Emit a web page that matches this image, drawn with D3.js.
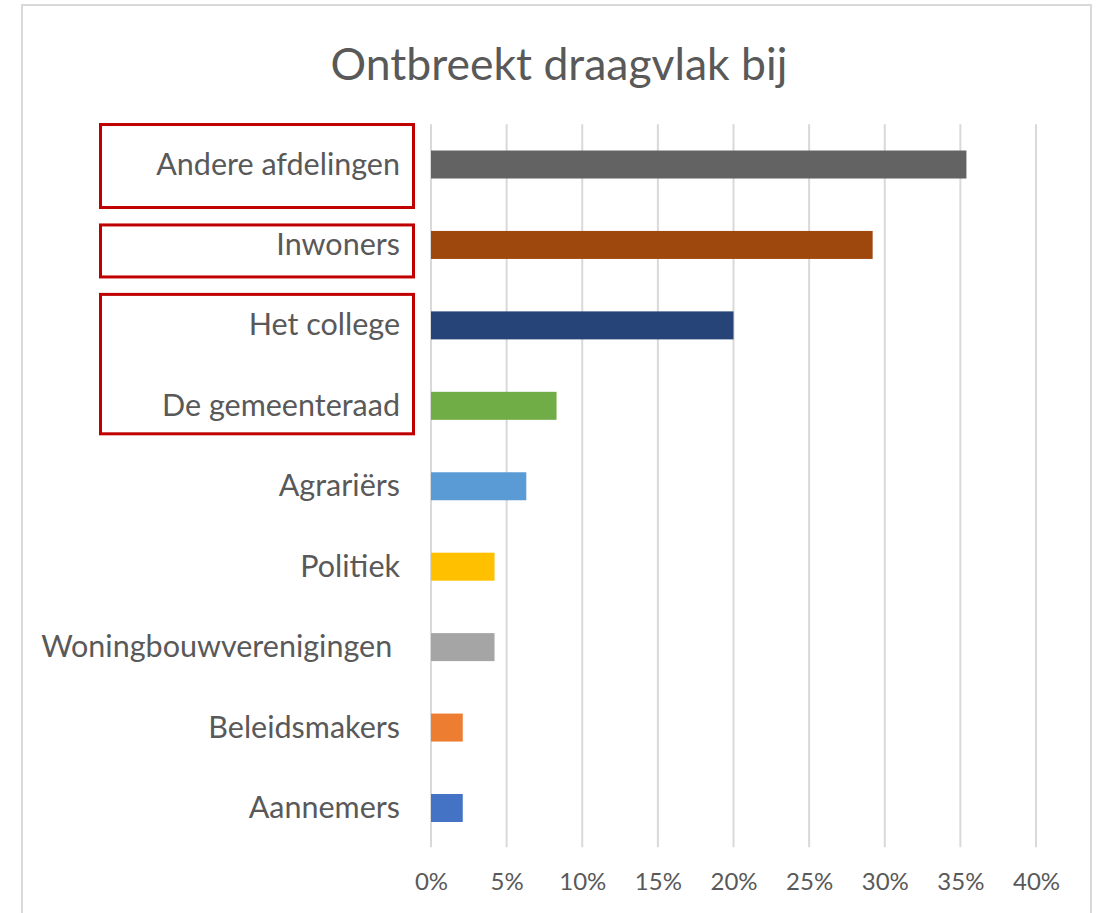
<!DOCTYPE html>
<html lang="nl">
<head>
<meta charset="UTF-8">
<title>Ontbreekt draagvlak bij</title>
<script src="https://cdn.jsdelivr.net/npm/d3@7"></script>
<style>
    body { margin: 0; background: #fff; }
    text { font-family: Lato, "Noto Sans", sans-serif; fill: #595959; }
</style>
</head>
<body>
<script>
    // Categorieen (van boven naar beneden) en waarden in procenten
    let categories = ["Andere afdelingen", "Inwoners", "Het college", "De gemeenteraad", "Agrariërs",
        "Politiek", "Woningbouwverenigingen ", "Beleidsmakers", "Aannemers"];
    let values = [35.4, 29.2, 20.0, 8.3, 6.3, 4.2, 4.2, 2.1, 2.1];
    let colors = ["#636363", "#9E480E", "#264478", "#70AD47", "#5B9BD5",
        "#FFC000", "#A5A5A5", "#ED7D31", "#4472C4"];
    let ticks = [0, 5, 10, 15, 20, 25, 30, 35, 40];

    // Rode kaders rond labels (eerste en laatste categorie, extra ruimte boven/onder)
    let boxFrom = [0, 1, 2];
    let boxTo = [0, 1, 3];
    let boxPadTop = [26, 6, 17];
    let boxPadBottom = [29, 18, 14];

    let W = 1099, H = 913;
    let plot = {left: 431, right: 1036, top: 124.3, bottom: 848.2};

    let svg = d3.select("body").append("svg")
        .attr("width", W)
        .attr("height", H);

    // Kader van de grafiek
    svg.append("rect")
        .attr("x", 22).attr("y", 5)
        .attr("width", 1069).attr("height", 920)
        .attr("fill", "#fff")
        .attr("stroke", "#d9d9d9")
        .attr("stroke-width", 2);

    let x = d3.scaleLinear().domain([0, 40]).range([plot.left, plot.right]);
    let y = d3.scaleBand().domain(categories)
        .range([plot.top, plot.bottom])
        .paddingInner(0.652)
        .paddingOuter(0.326);

    // Titel
    svg.append("text")
        .attr("x", 559).attr("y", 80)
        .attr("text-anchor", "middle")
        .attr("font-size", "44.5px")
        .text("Ontbreekt draagvlak bij");

    // Rasterlijnen
    svg.append("g").selectAll("line")
        .data(ticks)
        .join("line")
        .attr("x1", d => x(d)).attr("x2", d => x(d))
        .attr("y1", plot.top).attr("y2", plot.bottom - 1)
        .attr("stroke", "#d9d9d9")
        .attr("stroke-width", 2);

    // As-labels
    let xAxis = svg.append("g")
        .attr("transform", "translate(0," + plot.bottom + ")")
        .call(d3.axisBottom(x).tickValues(ticks).tickSize(0).tickPadding(0).tickFormat(d => d + "%"));
    xAxis.select(".domain").remove();
    xAxis.attr("font-family", null);
    xAxis.selectAll("text")
        .attr("y", 42)
        .attr("dy", null)
        .attr("font-size", "24px")
        .style("fill", "#595959");

    // Staven
    svg.append("g").selectAll("rect")
        .data(categories)
        .join("rect")
        .attr("x", x(0))
        .attr("y", d => y(d))
        .attr("width", (d, i) => x(values[i]) - x(0))
        .attr("height", y.bandwidth())
        .attr("fill", (d, i) => colors[i]);

    // Categorielabels
    svg.append("g").selectAll("text")
        .data(categories)
        .join("text")
        .attr("x", 400)
        .attr("y", d => y(d) + y.bandwidth() / 2)
        .attr("dy", "0.33em")
        .attr("text-anchor", "end")
        .attr("font-size", "30.5px")
        .style("white-space", "pre")
        .text(d => d);

    // Rode kaders
    svg.append("g").selectAll("rect")
        .data(boxFrom)
        .join("rect")
        .attr("x", 100.5)
        .attr("y", (d, i) => y(categories[d]) - boxPadTop[i])
        .attr("width", 313)
        .attr("height", (d, i) => y(categories[boxTo[i]]) + y.bandwidth() + boxPadBottom[i] - y(categories[d]) + boxPadTop[i])
        .attr("fill", "none")
        .attr("stroke", "#C00000")
        .attr("stroke-width", 3);
</script>
</body>
</html>
